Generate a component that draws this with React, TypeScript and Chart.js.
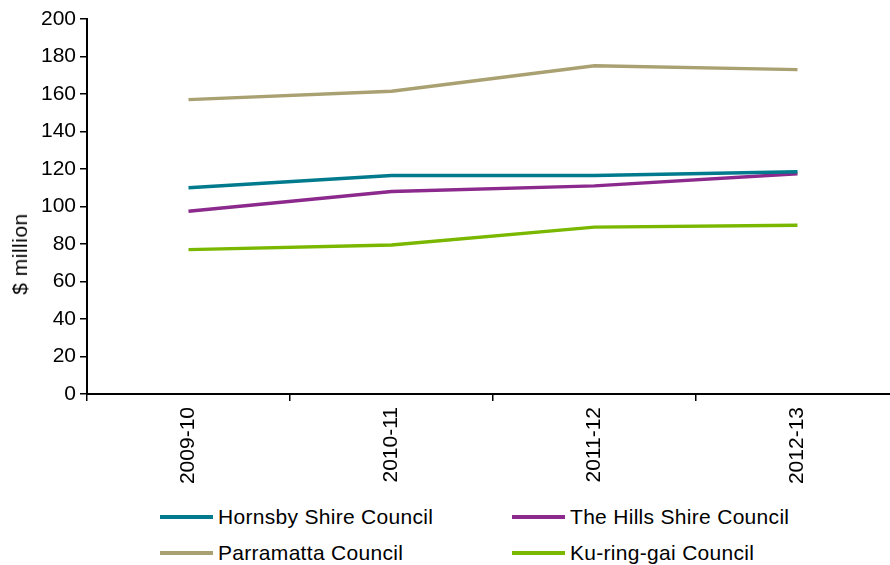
import React, { useEffect, useRef } from "react";
import { Chart, registerables } from "chart.js";

Chart.register(...registerables);

const categories = ["2009-10", "2010-11", "2011-12", "2012-13"];
const hornsby = [110, 116.5, 116.5, 118.5];
const theHills = [97.5, 108, 111, 117.5];
const parramatta = [157, 161.5, 175, 173];
const kuringgai = [77, 79.5, 89, 90];

const seriesNames = [
  "Hornsby Shire Council",
  "The Hills Shire Council",
  "Parramatta Council",
  "Ku-ring-gai Council",
];
const seriesColors = ["#007A8C", "#8B2A8C", "#A9A172", "#7AB800"];
const yTitle = "$ million";

const FONT = "'Liberation Sans', Arial, sans-serif";

export default function App() {
  const ref = useRef<HTMLCanvasElement | null>(null);

  useEffect(() => {
    if (!ref.current) return;
    const values = [hornsby, theHills, parramatta, kuringgai];
    const chart = new Chart(ref.current, {
      type: "line",
      data: {
        labels: categories,
        datasets: values.map((v, i) => ({
          label: seriesNames[i],
          data: v,
          borderColor: seriesColors[i],
          backgroundColor: seriesColors[i],
          borderWidth: 3.5,
          pointRadius: 0,
          tension: 0,
          fill: false,
        })),
      },
      options: {
        responsive: false,
        animation: false,
        devicePixelRatio: 1,
        layout: { padding: { top: 19, left: 0, right: 1, bottom: 0 } },
        plugins: { legend: { display: false }, tooltip: { enabled: false } },
        scales: {
          x: {
            offset: true,
            grid: {
              offset: true,
              drawOnChartArea: false,
              drawTicks: true,
              tickLength: 7,
              color: "#000",
              lineWidth: 1.5,
            },
            border: { display: true, color: "#000", width: 2 },
            ticks: {
              minRotation: 90,
              maxRotation: 90,
              padding: 6,
              color: "#000",
              font: { family: FONT, size: 21 },
            },
            afterFit: (s: any) => {
              s.height = 101;
            },
          },
          y: {
            min: 0,
            max: 200,
            grid: {
              drawOnChartArea: false,
              drawTicks: true,
              tickLength: 7,
              color: "#000",
              lineWidth: 1.5,
            },
            border: { display: true, color: "#000", width: 2 },
            ticks: {
              stepSize: 20,
              padding: 4,
              color: "#000",
              font: { family: FONT, size: 21 },
            },
            afterFit: (s: any) => {
              s.width = 87;
            },
          },
        },
      },
    });
    return () => chart.destroy();
  }, []);

  const legendPos = [
    { x: 160, y: 517 },
    { x: 512, y: 517 },
    { x: 160, y: 553 },
    { x: 512, y: 553 },
  ];

  return (
    <div
      style={{
        position: "absolute",
        left: 0,
        top: 0,
        width: 890,
        height: 565,
        overflow: "hidden",
        background: "#fff",
      }}
    >
      <canvas
        ref={ref}
        width={900}
        height={495}
        style={{ position: "absolute", left: 0, top: 0, width: 900, height: 495 }}
      />
      <div
        style={{
          position: "absolute",
          left: 20,
          top: 254,
          transform: "translate(-50%, -50%) rotate(-90deg)",
          fontFamily: FONT,
          fontSize: 21,
          color: "#000",
          whiteSpace: "nowrap",
          letterSpacing: "0.5px",
          lineHeight: "24px",
        }}
      >
        {yTitle}
      </div>
      {seriesNames.map((name, i) => (
        <div
          key={name}
          style={{
            position: "absolute",
            left: legendPos[i].x,
            top: legendPos[i].y - 13,
            height: 26,
            display: "flex",
            alignItems: "center",
            whiteSpace: "nowrap",
          }}
        >
          <span
            style={{
              display: "inline-block",
              width: 53,
              height: 4,
              background: seriesColors[i],
              marginRight: 5,
            }}
          />
          <span style={{ fontFamily: FONT, fontSize: 21, color: "#000", letterSpacing: "0.3px" }}>
            {name}
          </span>
        </div>
      ))}
    </div>
  );
}
